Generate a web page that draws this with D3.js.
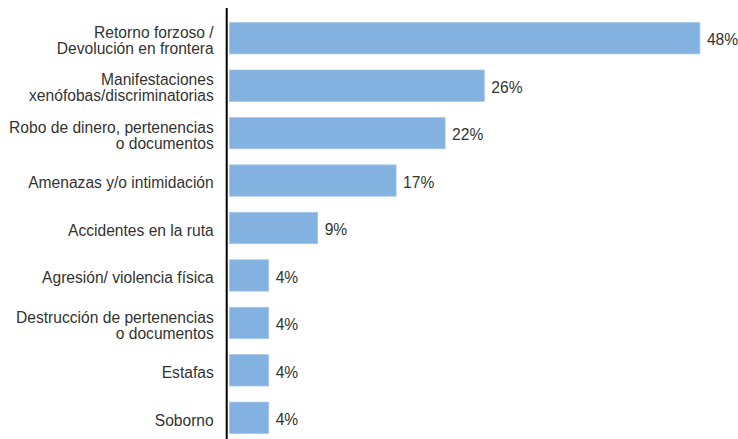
<!DOCTYPE html>
<html>
<head>
<meta charset="utf-8">
<script src="https://cdn.jsdelivr.net/npm/d3@7"></script>
<style>
  body { margin: 0; background: #fff; }
  svg { display: block; }
</style>
</head>
<body>
<svg id="chart" width="738" height="439"></svg>
<script>
// categories (line breaks as in the original)
var categories = [
    "Retorno forzoso /\nDevolución en frontera",
    "Manifestaciones\nxenófobas/discriminatorias",
    "Robo de dinero, pertenencias\no documentos",
    "Amenazas y/o intimidación",
    "Accidentes en la ruta",
    "Agresión/ violencia física",
    "Destrucción de pertenencias\no documentos",
    "Estafas",
    "Soborno"
];
var values = [48, 26, 22, 17, 9, 4, 4, 4, 4];

var data = categories.map(function (c, i) { return { cat: c, val: values[i] }; });

var svg = d3.select("#chart");
var axisX = 226.7;
var font = "15.6px 'Liberation Sans', Arial, sans-serif";

var x = d3.scaleLinear().domain([0, 50]).range([229.5, 719.5]);
var y = d3.scaleBand()
    .domain(categories)
    .range([14.5, 441.5])
    .paddingInner(0.34)
    .paddingOuter(0.17);

// bars
svg.selectAll(".bar")
    .data(data)
    .enter().append("rect")
    .attr("class", "bar")
    .attr("x", x(0))
    .attr("y", function (d) { return y(d.cat); })
    .attr("width", function (d) { return x(d.val) - x(0); })
    .attr("height", y.bandwidth())
    .attr("fill", "#83b2e0")
    .attr("stroke", "#a3c6ea")
    .attr("stroke-width", 0.8);

// value labels
svg.selectAll(".val")
    .data(data)
    .enter().append("text")
    .attr("class", "val")
    .attr("x", function (d) { return x(d.val) + 7; })
    .attr("y", function (d) { return y(d.cat) + y.bandwidth() / 2; })
    .attr("dy", "0.46em")
    .style("font", font)
    .style("fill", "#333")
    .text(function (d) { return d.val + "%"; });

// y axis with multi-line labels
var gy = svg.append("g")
    .attr("transform", "translate(" + axisX + ",0)")
    .call(d3.axisLeft(y).tickSize(0).tickPadding(13));

gy.select(".domain").remove();

gy.selectAll(".tick text")
    .style("font", font)
    .style("fill", "#333")
    .each(function (d) {
        var lines = d.split("\n");
        var t = d3.select(this).text(null).attr("dy", null);
        var lh = 16;
        lines.forEach(function (ln, i) {
            t.append("tspan")
                .attr("x", -13)
                .attr("y", (i - (lines.length - 1) / 2) * lh)
                .attr("dy", "0.5em")
                .text(ln);
        });
    });

// vertical axis line
svg.append("line")
    .attr("x1", axisX).attr("x2", axisX)
    .attr("y1", 8).attr("y2", 439)
    .attr("stroke", "#000")
    .attr("stroke-width", 2);
</script>
</body>
</html>
